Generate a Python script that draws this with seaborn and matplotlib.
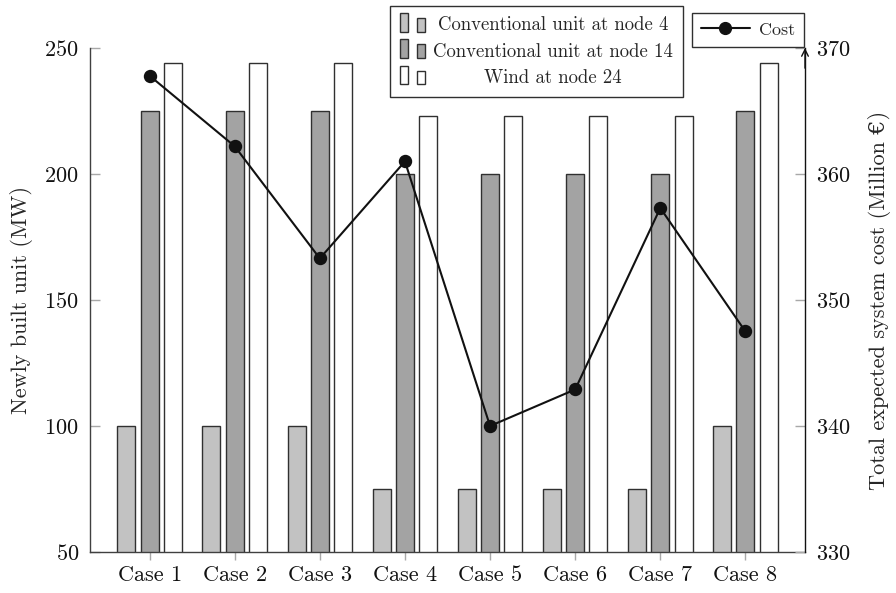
import numpy as np
import pandas as pd
import matplotlib
matplotlib.use("Agg")
import matplotlib.pyplot as plt
import seaborn as sns
from matplotlib.patches import Rectangle
from matplotlib.lines import Line2D
from matplotlib.legend_handler import HandlerBase

# ---- data -------------------------------------------------------------
cases = [f"Case {i}" for i in range(1, 9)]
node4_mw = [100, 100, 100, 75, 75, 75, 75, 100]
node14_mw = [225, 225, 225, 200, 200, 200, 200, 225]
wind24_mw = [244, 244, 244, 223, 223, 223, 223, 244]
cost_meur = [367.8, 362.2, 353.3, 361.0, 340.0, 342.9, 357.3, 347.5]

series_names = ["Conventional unit at node 4",
                "Conventional unit at node 14",
                "Wind at node 24"]
series_colors = ["#c2c2c2", "#a3a3a3", "#ffffff"]
left_ticks = [50, 100, 150, 200, 250]
right_ticks = [330, 340, 350, 360, 370]

# ---- style ------------------------------------------------------------
sns.set_theme(style="white")
plt.rcParams["font.family"] = ["cmr10", "DejaVu Serif"]
plt.rcParams["axes.formatter.use_mathtext"] = True

units = pd.DataFrame({
    "case": cases * 3,
    "mw": node4_mw + node14_mw + wind24_mw,
    "unit": [n for n in series_names for _ in cases],
})
costs = pd.DataFrame({"case": cases, "cost": cost_meur})

W, H = 896, 593
fig = plt.figure(figsize=(W / 100, H / 100), dpi=100)
ax = fig.add_axes([90 / W, 41 / H, 715 / W, 504 / H])

sns.barplot(data=units, x="case", y="mw", hue="unit", hue_order=series_names,
            palette=series_colors, saturation=1, width=0.82, gap=0.226,
            edgecolor="#303030", linewidth=1.0, errorbar=None,
            legend=False, ax=ax)

ax2 = ax.twinx()
sns.pointplot(data=costs, x="case", y="cost", color="#111111",
              markers="o", markersize=8.5, linewidth=1.5,
              errorbar=None, ax=ax2)

# ---- axes -------------------------------------------------------------
ax.set_xlim(-0.7, 7.7)
ax2.set_xlim(-0.7, 7.7)
ax.set_ylim(50, 250)
ax.set_yticks(left_ticks)
ax2.set_ylim(330, 370)
ax2.set_yticks(right_ticks)
ax.set_xlabel("")
ax2.set_xlabel("")

tick_gray = "#a8a8a8"
ax.tick_params(axis="y", which="major", left=True, direction="in",
               length=7, width=1, color=tick_gray, labelsize=16, pad=8,
               labelcolor="#111111")
ax.tick_params(axis="x", which="major", bottom=True, direction="out",
               length=6, width=1, color=tick_gray, labelsize=16, pad=4,
               labelcolor="#111111")
ax2.tick_params(axis="y", which="major", right=True, direction="in",
                length=7, width=1, color=tick_gray, labelsize=16, pad=8,
                labelcolor="#111111")

for s in ("top", "right"):
    ax.spines[s].set_visible(False)
for s in ("top", "left", "bottom"):
    ax2.spines[s].set_visible(False)
ax.spines["left"].set_color("#404040")
ax.spines["bottom"].set_color("#404040")
ax2.spines["right"].set_color("#111111")
for sp in (ax.spines["left"], ax.spines["bottom"], ax2.spines["right"]):
    sp.set_linewidth(1.0)

# arrow head on top of the cost axis
ax2.annotate("", xy=(1, 1.0), xytext=(1, 0.96), xycoords="axes fraction",
             arrowprops=dict(arrowstyle="->", lw=1.0, color="#111111",
                             shrinkA=0, shrinkB=0))

ax.set_ylabel("Newly built unit (MW)", fontsize=16)
ax.yaxis.set_label_coords((33 - 90) / 715, 0.5)
ax2.set_ylabel("Total expected system cost (Million €)", fontsize=16,
               rotation=90)
ax2.yaxis.set_label_coords((868 - 90) / 715, 0.5)


# ---- legends ----------------------------------------------------------
class TwinBarHandler(HandlerBase):
    """Two small bars of unequal height, as in an ybar legend."""

    def create_artists(self, legend, orig_handle, xdescent, ydescent,
                       width, height, fontsize, trans):
        fc = orig_handle.get_facecolor()
        ec = orig_handle.get_edgecolor()
        bw = 0.3 * width
        x0 = -xdescent
        r1 = Rectangle((x0, -1), bw, 1.0 * fontsize, facecolor=fc,
                       edgecolor=ec, linewidth=1.0, transform=trans)
        r2 = Rectangle((x0 + width - bw, -1), bw, 0.72 * fontsize,
                       facecolor=fc, edgecolor=ec, linewidth=1.0,
                       transform=trans)
        return [r1, r2]


bar_handles = [Rectangle((0, 0), 1, 1, facecolor=c, edgecolor="#303030")
               for c in series_colors]
leg1 = ax2.legend(bar_handles, series_names,
                  handler_map={Rectangle: TwinBarHandler()},
                  loc="upper left", bbox_to_anchor=(390 / W, 1 - 6 / H),
                  bbox_transform=fig.transFigure, borderaxespad=0,
                  fontsize=13.5, handlelength=1.3, handletextpad=0.45,
                  labelspacing=0.45, borderpad=0.55, fancybox=False,
                  framealpha=1, edgecolor="#303030")
leg1.get_frame().set_linewidth(1.0)
ax2.add_artist(leg1)

cost_handle = Line2D([], [], color="#111111", lw=1.5, marker="o",
                     markersize=8.5)
leg2 = ax2.legend([cost_handle], ["Cost"], loc="upper right",
                  bbox_to_anchor=(804 / W, 1 - 13 / H),
                  bbox_transform=fig.transFigure, borderaxespad=0,
                  fontsize=13, handlelength=2.7, handletextpad=0.5,
                  borderpad=0.5, fancybox=False, framealpha=1,
                  edgecolor="#303030")
leg2.get_frame().set_linewidth(1.0)

# centre the labels of the unit legend within its text column
fig.canvas.draw()
renderer = fig.canvas.get_renderer()
texts = leg1.get_texts()
widths = [t.get_window_extent(renderer).width for t in texts]
wmax = max(widths)
for t, w in zip(texts, widths):
    t.set_x((wmax - w) / 2)

fig.savefig("out.png", dpi=100)
